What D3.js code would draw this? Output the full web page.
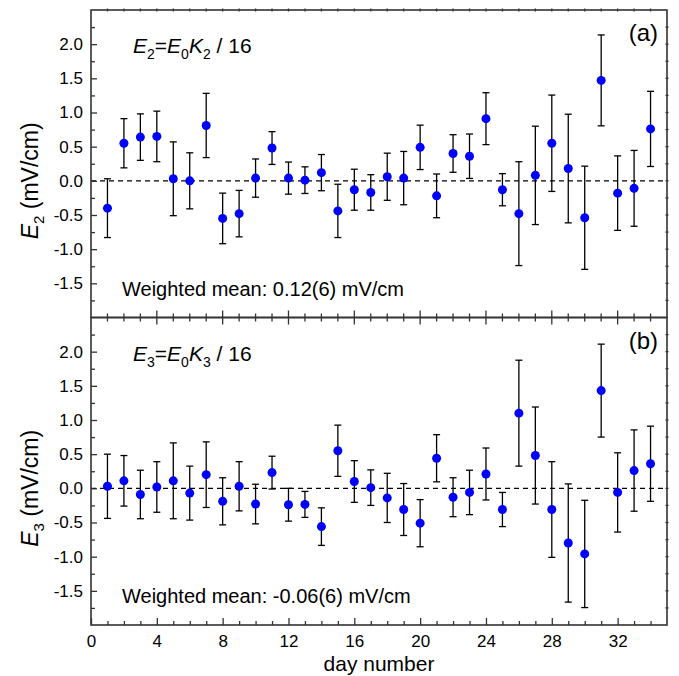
<!DOCTYPE html>
<html>
<head>
<meta charset="utf-8">
<script src="https://cdn.jsdelivr.net/npm/d3@7"></script>
<style>
  body { margin: 0; background: #fff; }
  svg { display: block; font-family: "Liberation Sans", Arial, sans-serif; }
</style>
</head>
<body>
<div id="chart"></div>
<script>
const width = 679, height = 676;

// day numbers (x) and the two panels' values with their errors
const days = d3.range(1, 35);
const e2 = [-0.40, 0.55, 0.64, 0.65, 0.03, 0.00, 0.81, -0.55, -0.48, 0.04,
            0.48, 0.04, 0.01, 0.12, -0.44, -0.13, -0.17, 0.06, 0.04, 0.49,
            -0.22, 0.40, 0.36, 0.91, -0.13, -0.48, 0.08, 0.55, 0.18, -0.54,
            1.47, -0.18, -0.11, 0.76];
const e2Err = [0.43, 0.36, 0.34, 0.37, 0.54, 0.41, 0.47, 0.37, 0.34, 0.28,
               0.24, 0.235, 0.195, 0.265, 0.39, 0.30, 0.26, 0.345, 0.39, 0.325,
               0.32, 0.275, 0.325, 0.38, 0.235, 0.76, 0.72, 0.705, 0.795, 0.755,
               0.665, 0.545, 0.555, 0.55];
const e3 = [0.03, 0.11, -0.09, 0.02, 0.11, -0.07, 0.20, -0.19, 0.03, -0.23,
            0.23, -0.24, -0.235, -0.56, 0.55, 0.10, 0.01, -0.14, -0.31, -0.51,
            0.44, -0.13, -0.06, 0.21, -0.31, 1.10, 0.48, -0.31, -0.80, -0.96,
            1.43, -0.06, 0.26, 0.36];
const e3Err = [0.47, 0.37, 0.355, 0.37, 0.555, 0.395, 0.48, 0.345, 0.36, 0.29,
               0.24, 0.24, 0.19, 0.275, 0.375, 0.305, 0.26, 0.36, 0.38, 0.345,
               0.345, 0.285, 0.325, 0.38, 0.25, 0.775, 0.71, 0.70, 0.865, 0.785,
               0.68, 0.58, 0.595, 0.55];

const xTicks = [0, 4, 8, 12, 16, 20, 24, 28, 32];
const yTicks = [-1.5, -1.0, -0.5, 0.0, 0.5, 1.0, 1.5, 2.0];
const yMinor = d3.range(-1.75, 2.5, 0.25);

const frame = "#333";

const svg = d3.select("#chart")
  .append("svg")
  .attr("width", width)
  .attr("height", height);

const x = d3.scaleLinear()
  .domain([0, 35])
  .range([91, 667]);

function drawPanel(top, bottom, vals, errs, sub, meanText, tag) {
  const y = d3.scaleLinear()
    .domain([-2, 2.5])
    .range([bottom, top]);

  const g = svg.append("g");

  // zero line
  g.append("line")
    .attr("x1", x(0)).attr("x2", x(35))
    .attr("y1", y(0)).attr("y2", y(0))
    .attr("stroke", "#000")
    .attr("stroke-width", 1.3)
    .attr("stroke-dasharray", "5,4");

  const pts = days.map((d, i) => ({ day: d, v: vals[i], e: errs[i] }));

  // error bars
  const eb = g.append("g").attr("stroke", "#000").attr("stroke-width", 1.3);
  eb.selectAll(".bar").data(pts).join("line")
    .attr("x1", d => x(d.day)).attr("x2", d => x(d.day))
    .attr("y1", d => y(d.v - d.e)).attr("y2", d => y(d.v + d.e));
  eb.selectAll(".capt").data(pts).join("line")
    .attr("x1", d => x(d.day) - 3.5).attr("x2", d => x(d.day) + 3.5)
    .attr("y1", d => y(d.v + d.e)).attr("y2", d => y(d.v + d.e));
  eb.selectAll(".capb").data(pts).join("line")
    .attr("x1", d => x(d.day) - 3.5).attr("x2", d => x(d.day) + 3.5)
    .attr("y1", d => y(d.v - d.e)).attr("y2", d => y(d.v - d.e));

  // points
  g.append("g").selectAll("circle").data(pts).join("circle")
    .attr("cx", d => x(d.day))
    .attr("cy", d => y(d.v))
    .attr("r", 4.5)
    .attr("fill", "#0000ff");

  // left axis, major + minor ticks pointing inward
  const left = g.append("g")
    .attr("transform", `translate(${x(0)},0)`)
    .call(d3.axisLeft(y).tickValues(yTicks).tickSize(-6).tickPadding(8)
      .tickFormat(d => d.toFixed(1)));
  left.select(".domain").remove();
  left.attr("font-size", 17).attr("font-family", null);
  left.selectAll("line").attr("stroke", frame).attr("stroke-width", 1.3);
  left.selectAll("text").attr("fill", "#000");

  const leftMinor = g.append("g")
    .attr("transform", `translate(${x(0)},0)`)
    .call(d3.axisLeft(y).tickValues(yMinor.filter(v => Math.abs(v * 2 - Math.round(v * 2)) > 0.01))
      .tickSize(-4).tickFormat(""));
  leftMinor.select(".domain").remove();
  leftMinor.selectAll("line").attr("stroke", frame).attr("stroke-width", 1.3);

  // tiny ticks on the right edge
  g.append("g").selectAll("line").data(yMinor).join("line")
    .attr("x1", x(35) - 1.5).attr("x2", x(35) + 1.5)
    .attr("y1", d => y(d)).attr("y2", d => y(d))
    .attr("stroke", frame).attr("stroke-width", 1.3);

  // frame
  g.append("rect")
    .attr("x", x(0)).attr("y", top)
    .attr("width", x(35) - x(0)).attr("height", bottom - top)
    .attr("fill", "none")
    .attr("stroke", frame)
    .attr("stroke-width", 1.6);

  // y label
  const yl = g.append("text")
    .attr("transform", `translate(38,${y(0)}) rotate(-90)`)
    .attr("text-anchor", "middle")
    .attr("font-size", 23)
    .attr("fill", "#000");
  yl.append("tspan").attr("font-style", "italic").text("E");
  yl.append("tspan").attr("font-size", 15).attr("dy", 6).text(sub);
  yl.append("tspan").attr("dy", -6).text(" (mV/cm)");

  // equation
  const eq = g.append("text")
    .attr("x", 133).attr("y", top + 43)
    .attr("font-size", 21)
    .attr("fill", "#000");
  eq.append("tspan").attr("font-style", "italic").text("E");
  eq.append("tspan").attr("font-size", 14).attr("dy", 6).text(sub);
  eq.append("tspan").attr("dy", -6).text("=");
  eq.append("tspan").attr("font-style", "italic").text("E");
  eq.append("tspan").attr("font-size", 14).attr("dy", 6).text("0");
  eq.append("tspan").attr("font-style", "italic").attr("dy", -6).text("K");
  eq.append("tspan").attr("font-size", 14).attr("dy", 6).text(sub);
  eq.append("tspan").attr("dy", -6).text(" / 16");

  g.append("text")
    .attr("x", 122).attr("y", bottom - 22)
    .attr("font-size", 20)
    .attr("fill", "#000")
    .text(meanText);

  g.append("text")
    .attr("x", 658).attr("y", top + 31)
    .attr("text-anchor", "end")
    .attr("font-size", 24)
    .attr("fill", "#000")
    .text(tag);

  return y;
}

drawPanel(10, 317.5, e2, e2Err, "2", "Weighted mean: 0.12(6) mV/cm", "(a)");
drawPanel(317.5, 625, e3, e3Err, "3", "Weighted mean: -0.06(6) mV/cm", "(b)");

// x ticks: top edge (tiny), shared middle edge (both ways), bottom edge (inward)
const dayTicks = d3.range(1, 35);
const minorDays = dayTicks.filter(d => d % 4 !== 0);

svg.append("g").selectAll("line").data(dayTicks).join("line")
  .attr("x1", d => x(d)).attr("x2", d => x(d))
  .attr("y1", 8.5).attr("y2", 11.5)
  .attr("stroke", frame).attr("stroke-width", 1.3);

const mid = svg.append("g").attr("stroke", frame).attr("stroke-width", 1.3);
mid.selectAll(".mj").data(xTicks.slice(1)).join("line")
  .attr("x1", d => x(d)).attr("x2", d => x(d))
  .attr("y1", 317.5 - 7).attr("y2", 317.5 + 7);
mid.selectAll(".mn").data(minorDays).join("line")
  .attr("x1", d => x(d)).attr("x2", d => x(d))
  .attr("y1", 317.5 - 4).attr("y2", 317.5 + 4);

const bottomAxis = svg.append("g")
  .attr("transform", "translate(0,625)")
  .call(d3.axisBottom(x).tickValues(xTicks).tickSize(-7).tickPadding(10)
    .tickFormat(d3.format("d")));
bottomAxis.select(".domain").remove();
bottomAxis.attr("font-size", 17).attr("font-family", null);
bottomAxis.selectAll("line").attr("stroke", frame).attr("stroke-width", 1.3);
bottomAxis.selectAll("text").attr("fill", "#000");

const bottomMinor = svg.append("g")
  .attr("transform", "translate(0,625)")
  .call(d3.axisBottom(x).tickValues(minorDays).tickSize(-4).tickFormat(""));
bottomMinor.select(".domain").remove();
bottomMinor.selectAll("line").attr("stroke", frame).attr("stroke-width", 1.3);

svg.append("text")
  .attr("x", x(17.5))
  .attr("y", 671)
  .attr("text-anchor", "middle")
  .attr("font-size", 21)
  .attr("fill", "#000")
  .text("day number");
</script>
</body>
</html>
